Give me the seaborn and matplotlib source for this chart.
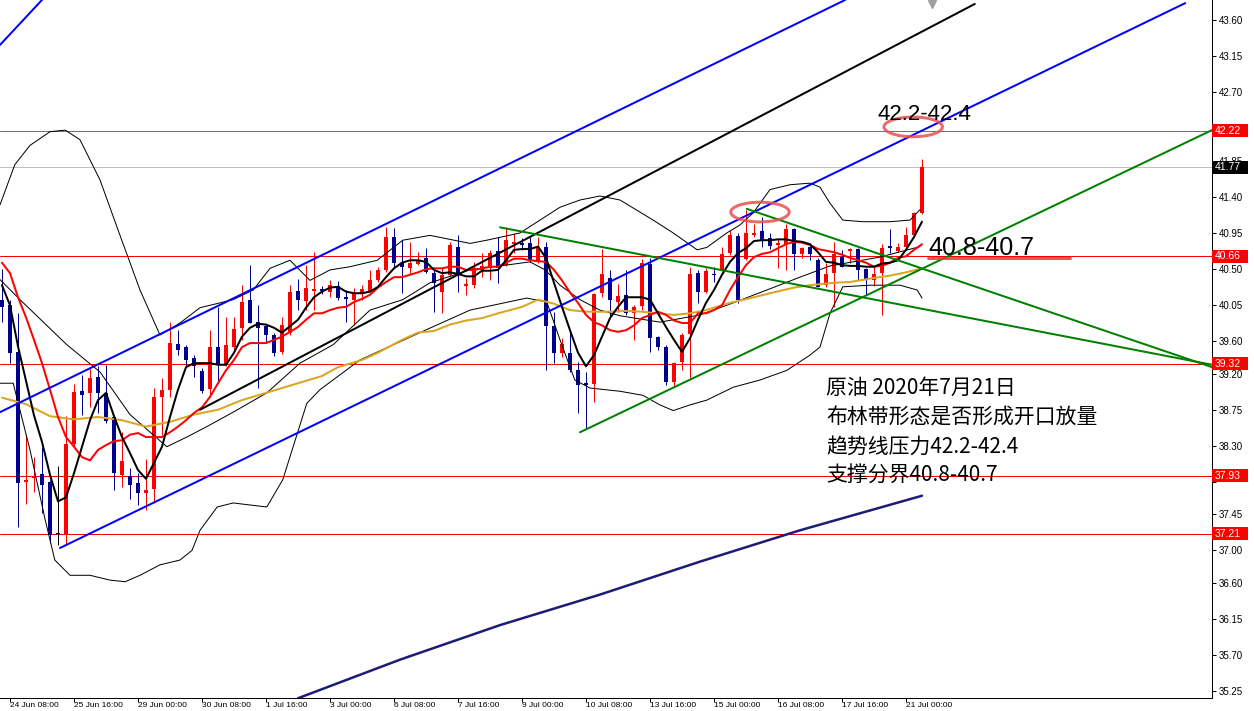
import numpy as np
import pandas as pd
import matplotlib
matplotlib.use("Agg")
import matplotlib.pyplot as plt
import matplotlib.transforms as mtransforms
from matplotlib import font_manager
from matplotlib.patches import Ellipse, Rectangle
import seaborn as sns

sns.set_theme(style="white")
plt.rcParams['font.family'] = ['Liberation Sans', 'DejaVu Sans']

#H4 candles, 24 Jun 04:00 .. 21 Jul 08:00
opens = [40.12, 40.05, 39.47, 37.85, 37.90, 37.95, 37.85, 37.20, 37.20, 38.32,
         38.98, 38.96, 39.16, 38.96, 38.66, 37.94, 37.92, 37.84, 37.71, 37.76,
         38.91, 39.00, 39.57, 39.53, 39.39, 39.23, 39.01, 39.53, 39.31, 39.53,
         39.77, 40.12, 39.84, 39.79, 39.68, 39.47, 39.70, 40.23, 40.10, 40.23,
         40.25, 40.22, 40.29, 40.15, 40.12, 40.19, 40.23, 40.36, 40.49, 40.90,
         40.58, 40.51, 40.56, 40.64, 40.45, 40.22, 40.43, 40.78, 40.29, 40.30,
         40.49, 40.51, 40.73, 40.55, 40.81, 40.83, 40.83, 40.59, 40.78, 39.79,
         39.46, 39.46, 39.24, 39.08, 39.07, 40.20, 40.39, 40.09, 40.18, 39.95,
         40.04, 40.56, 39.66, 39.53, 39.10, 39.34, 39.69, 40.45, 40.21, 40.44,
         40.49, 40.70, 40.91, 40.63, 40.92, 40.97, 40.89, 40.80, 40.81, 41.00,
         40.69, 40.78, 40.61, 40.30, 40.45, 40.65, 40.73, 40.75, 40.50, 40.36,
         40.45, 40.79, 40.73, 40.78, 40.92, 41.20]
highs = [40.50, 40.12, 39.95, 38.44, 38.16, 38.29, 37.88, 38.05, 38.67, 39.07,
         39.18, 39.27, 39.30, 39.31, 38.68, 38.47, 38.03, 37.96, 38.14, 39.02,
         39.15, 39.84, 39.74, 39.56, 39.43, 39.27, 39.74, 40.03, 39.90, 39.90,
         40.30, 40.55, 40.05, 39.81, 39.71, 39.90, 40.30, 40.38, 40.55, 40.71,
         40.29, 40.36, 40.35, 40.24, 40.27, 40.30, 40.49, 40.53, 41.02, 41.01,
         40.86, 40.84, 40.71, 40.76, 40.49, 40.51, 40.84, 40.92, 40.39, 40.59,
         40.70, 40.74, 40.90, 41.02, 40.95, 40.89, 40.90, 40.90, 40.84, 39.97,
         39.64, 39.72, 39.34, 39.22, 40.20, 40.75, 40.49, 40.32, 40.49, 40.05,
         40.63, 40.64, 39.67, 39.55, 39.34, 39.70, 40.53, 40.49, 40.51, 40.53,
         40.78, 40.99, 40.95, 41.24, 41.06, 41.15, 40.95, 40.89, 41.06, 41.01,
         40.77, 40.80, 40.64, 40.58, 40.84, 40.74, 40.76, 40.76, 40.51, 40.53,
         40.81, 41.00, 40.83, 41.02, 41.21, 41.87]
lows = [39.84, 39.33, 37.29, 37.58, 37.73, 37.46, 37.09, 37.07, 37.07, 38.29,
        38.68, 38.78, 38.71, 38.59, 37.75, 37.79, 37.64, 37.56, 37.50, 37.59,
        38.44, 38.91, 39.43, 39.28, 39.16, 38.96, 38.91, 39.08, 39.30, 39.49,
        39.62, 39.83, 39.02, 39.58, 39.42, 39.44, 39.68, 39.99, 39.99, 39.99,
        40.19, 40.15, 40.12, 39.84, 39.80, 40.12, 40.22, 40.34, 40.46, 40.53,
        40.20, 40.43, 40.55, 40.45, 39.97, 39.95, 40.41, 40.22, 40.18, 40.27,
        40.40, 40.36, 40.33, 40.54, 40.70, 40.74, 40.59, 40.58, 39.24, 39.33,
        39.41, 39.22, 38.71, 38.52, 38.85, 40.15, 39.90, 39.97, 39.93, 39.62,
        39.99, 39.47, 39.49, 39.06, 39.03, 39.24, 39.15, 40.08, 40.20, 40.34,
        40.48, 40.68, 40.08, 40.61, 40.90, 40.78, 40.75, 40.51, 40.49, 40.49,
        40.64, 40.61, 40.28, 40.28, 40.03, 40.53, 40.58, 40.36, 40.18, 40.29,
        39.93, 40.70, 40.71, 40.76, 40.90, 41.19]
closes = [40.03, 39.46, 37.84, 37.88, 37.93, 37.81, 37.19, 37.20, 38.32, 38.97,
          38.93, 39.14, 38.96, 38.61, 37.96, 38.11, 37.81, 37.71, 37.75, 38.91,
          39.00, 39.58, 39.49, 39.37, 39.29, 38.98, 39.53, 39.32, 39.56, 39.75,
          40.09, 39.83, 39.77, 39.68, 39.46, 39.81, 40.22, 40.12, 40.26, 40.25,
          40.23, 40.30, 40.14, 40.13, 40.20, 40.25, 40.36, 40.49, 40.90, 40.58,
          40.53, 40.58, 40.61, 40.46, 40.33, 40.43, 40.80, 40.45, 40.32, 40.51,
          40.54, 40.70, 40.51, 40.86, 40.84, 40.80, 40.61, 40.78, 39.79, 39.46,
          39.57, 39.24, 39.06, 39.06, 40.19, 40.44, 40.12, 40.17, 39.95, 40.03,
          40.58, 39.64, 39.53, 39.10, 39.33, 39.68, 40.44, 40.21, 40.48, 40.43,
          40.69, 40.92, 40.12, 40.95, 40.95, 40.85, 40.79, 40.82, 41.00, 40.69,
          40.76, 40.69, 40.28, 40.44, 40.69, 40.53, 40.75, 40.49, 40.36, 40.44,
          40.76, 40.76, 40.78, 40.92, 41.20, 41.77]

#Fast MA (black) and red MA, one value per candle
ma_black = [40.30, 40.05, 39.54, 39.11, 38.68, 38.35, 37.94, 37.61, 37.66, 37.96,
            38.29, 38.62, 38.87, 38.96, 38.67, 38.41, 38.21, 38.00, 37.89, 38.09,
            38.29, 38.66, 39.00, 39.28, 39.33, 39.33, 39.33, 39.31, 39.31, 39.46,
            39.66, 39.77, 39.82, 39.81, 39.77, 39.71, 39.79, 39.87, 40.02, 40.15,
            40.22, 40.27, 40.28, 40.22, 40.20, 40.20, 40.22, 40.28, 40.40, 40.51,
            40.58, 40.61, 40.61, 40.59, 40.49, 40.45, 40.46, 40.44, 40.41, 40.41,
            40.48, 40.48, 40.49, 40.61, 40.74, 40.75, 40.75, 40.78, 40.64, 40.33,
            40.03, 39.74, 39.46, 39.29, 39.43, 39.66, 39.89, 40.03, 40.15, 40.15,
            40.15, 40.12, 39.95, 39.78, 39.62, 39.47, 39.64, 39.87, 40.08, 40.24,
            40.43, 40.59, 40.70, 40.76, 40.85, 40.86, 40.86, 40.87, 40.87, 40.85,
            40.84, 40.81, 40.71, 40.59, 40.58, 40.55, 40.54, 40.54, 40.53, 40.53,
            40.57, 40.58, 40.61, 40.74, 40.90, 41.09]
ma_red = [40.58, 40.45, 40.15, 39.90, 39.62, 39.33, 39.00, 38.66, 38.41, 38.29,
          38.16, 38.12, 38.25, 38.31, 38.36, 38.37, 38.44, 38.46, 38.41, 38.41,
          38.41, 38.47, 38.54, 38.62, 38.71, 38.78, 38.91, 39.08, 39.24, 39.37,
          39.53, 39.58, 39.58, 39.58, 39.62, 39.66, 39.72, 39.78, 39.87, 39.95,
          39.95, 39.99, 40.02, 40.03, 40.09, 40.13, 40.18, 40.27, 40.34, 40.40,
          40.40, 40.43, 40.46, 40.50, 40.51, 40.51, 40.53, 40.53, 40.49, 40.49,
          40.51, 40.53, 40.53, 40.58, 40.63, 40.63, 40.61, 40.60, 40.59, 40.49,
          40.36, 40.21, 40.08, 39.93, 39.84, 39.80, 39.74, 39.72, 39.74, 39.80,
          39.89, 39.93, 39.97, 39.93, 39.86, 39.83, 39.83, 39.95, 39.95, 39.99,
          40.05, 40.24, 40.40, 40.55, 40.65, 40.69, 40.71, 40.76, 40.81, 40.84,
          40.83, 40.80, 40.75, 40.73, 40.71, 40.68, 40.64, 40.61, 40.58, 40.53,
          40.54, 40.58, 40.64, 40.66, 40.74, 40.81]

#Slow MA (gold), read at sample candles
gold_idx = [0, 3, 6, 9, 12, 15, 18, 21, 24, 27, 30, 33, 36, 40, 42, 45, 47, 50,
            52, 54, 56, 58, 60, 62, 65, 67, 69, 71, 73, 76, 78, 80, 82, 84, 86,
            88, 91, 94, 96, 99, 101, 104, 106, 109, 111, 113, 115]
gold_val = [38.90, 38.82, 38.67, 38.63, 38.66, 38.62, 38.54, 38.60, 38.69, 38.75,
            38.87, 38.96, 39.05, 39.17, 39.28, 39.37, 39.46, 39.62, 39.71, 39.73,
            39.81, 39.86, 39.89, 39.95, 40.03, 40.12, 40.07, 39.99, 39.97, 39.97,
            39.98, 39.97, 39.95, 39.93, 39.95, 39.99, 40.08, 40.15, 40.20, 40.27,
            40.30, 40.33, 40.34, 40.39, 40.42, 40.46, 40.51]

#Bollinger bands (thin black)
bb_up_idx = [-0.25, 1.6, 3.5, 6, 7.9, 9.75, 12.25, 14.75, 17.25, 19.75, 22.25, 24.75,
             28.9, 31.4, 33.5, 36, 38.5, 41, 43.5, 46.9, 50.1, 53.5, 58.5, 60.6,
             64.75, 67.25, 69.75, 72.25, 74.75, 77.25, 81.4, 83.9, 86.9, 88.1,
             90.6, 92.25, 93.9, 96, 98.5, 101, 102.25, 103.5, 105.1, 107.6, 111,
             113.5, 114.75]
bb_up = [41.30, 41.80, 42.04, 42.21, 42.23, 42.11, 41.61, 40.92, 40.24, 39.68, 39.83,
         40.02, 40.12, 40.24, 40.51, 40.61, 40.36, 40.49, 40.53, 40.61, 40.86, 40.92,
         40.82, 40.86, 40.95, 41.11, 41.27, 41.36, 41.41, 41.36, 41.11, 40.95, 40.74,
         40.77, 40.95, 41.05, 41.20, 41.49, 41.55, 41.57, 41.52, 41.32, 41.11, 41.09,
         41.09, 41.11, 41.24]
bb_mid_idx = [-0.25, 2.25, 8.1, 12.25, 16, 20.6, 23.1, 25.6, 28.9, 33.1, 37.25, 41.4,
              46, 50.1, 53.5, 58.5, 62.25, 66, 67.9, 69.75, 72.25, 74.75, 77.25,
              82.25, 87.25, 91.4, 95.6, 99.75, 103.5, 109.75, 114.75]
bb_mid = [40.37, 40.12, 39.56, 39.22, 38.69, 38.29, 38.41, 38.54, 38.72, 38.96, 39.33,
          39.56, 39.99, 40.12, 40.33, 40.49, 40.54, 40.59, 40.49, 40.30, 40.12, 39.99,
          39.92, 39.84, 39.93, 40.08, 40.24, 40.40, 40.54, 40.65, 40.78]
bb_low_idx = [-0.25, 1.4, 3.5, 5.4, 6.6, 8.5, 11, 13.5, 15.4, 17.25, 19.75, 22.25,
              23.75, 24.75, 26.9, 28.9, 33.1, 35.1, 38.1, 39.75, 44.75, 52.25, 58.5,
              65.6, 68.1, 69.75, 71.6, 73.5, 77.25, 80.1, 82.25, 83.9, 86, 88.1,
              91.4, 94.75, 98.1, 101, 102.25, 103.5, 105.1, 108.5, 112.25, 114.4, 115]
bb_low = [39.08, 39.08, 38.25, 37.38, 36.88, 36.69, 36.69, 36.63, 36.61, 36.69, 36.82,
          36.88, 37.00, 37.25, 37.54, 37.59, 37.54, 37.88, 38.83, 39.00, 39.37, 39.71,
          39.99, 40.14, 40.09, 39.62, 39.12, 39.02, 38.98, 38.93, 38.81, 38.74, 38.81,
          38.87, 39.03, 39.12, 39.24, 39.43, 39.53, 39.95, 40.28, 40.30, 40.30, 40.24,
          40.14]

#Long MA (navy)
navy_idx = [37, 49.75, 62.25, 74.75, 87.25, 99.75, 115]
navy_val = [35.16, 35.64, 36.07, 36.45, 36.86, 37.25, 37.68]

#Trend lines: (start index, start price, end index, end price)
blue_lines = [(-0.25, 43.29, 5.0, 43.85),
              (-0.25, 38.72, 105.4, 43.85),
              (7.25, 37.03, 147.9, 43.81)]
black_line = (24.75, 38.75, 121.6, 43.80)
green_lines = [(62.25, 41.02, 151.25, 39.31),
               (93.1, 41.25, 151.25, 39.28),
               (72.25, 38.47, 151.25, 42.23)]

#Horizontal levels
red_levels = [40.66, 39.32, 37.93, 37.21]
tag_values = [42.22, 41.77, 40.66, 39.32, 37.93, 37.21]
tag_colors = ['#FF0000', '#000000', '#FF0000', '#FF0000', '#FF0000', '#FF0000']

ytick_vals = [43.60, 43.15, 42.70, 42.25, 41.85, 41.40, 40.95, 40.50, 40.05, 39.60,
              39.20, 38.75, 38.30, 37.85, 37.45, 37.00, 36.60, 36.15, 35.70, 35.25]
hidden_ticks = [42.25, 37.85]
xtick_pos = [1, 9, 17, 25, 33, 41, 49, 57, 65, 73, 81, 89, 97, 105, 113]
xtick_labels = ['24 Jun 08:00', '25 Jun 16:00', '29 Jun 00:00', '30 Jun 08:00',
                '1 Jul 16:00', '3 Jul 00:00', '6 Jul 08:00', '7 Jul 16:00',
                '9 Jul 00:00', '10 Jul 08:00', '13 Jul 16:00', '15 Jul 00:00',
                '16 Jul 08:00', '17 Jul 16:00', '21 Jul 00:00']

notes = ['原油 2020年7月21日', '布林带形态是否形成开口放量',
         '趋势线压力42.2-42.4', '支撑分界40.8-40.7']

PX = 0.72  # one screen pixel in points
BULL = '#FF0000'
BEAR = '#000090'

#Narrow font for the date axis if available
installed = {f.name for f in font_manager.fontManager.ttflist}
if 'Liberation Sans Narrow' in installed:
    date_font, date_size = 'Liberation Sans Narrow', 6.8
else:
    date_font, date_size = 'Liberation Sans', 6.0

fig = plt.figure(figsize=(12.54, 7.11), dpi=100)
ax = fig.add_axes([0, 13 / 711, 1212 / 1254, 698 / 711])
ax.set_facecolor('white')

#Candles
df = pd.DataFrame({'o': opens, 'h': highs, 'l': lows, 'c': closes})
df['i'] = np.arange(len(df))
df['col'] = np.where(df.c > df.o, BULL, np.where(df.c < df.o, BEAR, '#000000'))
ax.vlines(df.i, df.l, df.h, colors=df.col, lw=1 * PX, zorder=2)
body = np.maximum((df.c - df.o).abs(), 0.013)
ax.bar(df.i, body, bottom=np.minimum(df.o, df.c), width=0.62, color=df.col,
       linewidth=0, zorder=2)

#Indicators
sns.lineplot(x=bb_up_idx, y=bb_up, ax=ax, color='black', lw=1 * PX, sort=False, zorder=3)
sns.lineplot(x=bb_mid_idx, y=bb_mid, ax=ax, color='black', lw=1 * PX, sort=False, zorder=3)
sns.lineplot(x=bb_low_idx, y=bb_low, ax=ax, color='black', lw=1 * PX, sort=False, zorder=3)
sns.lineplot(x=gold_idx, y=gold_val, ax=ax, color='#DAA520', lw=2 * PX, sort=False, zorder=3)
sns.lineplot(x=df.i, y=ma_red, ax=ax, color='#FF0000', lw=2 * PX, sort=False, zorder=3)
sns.lineplot(x=df.i, y=ma_black, ax=ax, color='black', lw=2 * PX, sort=False, zorder=3)
sns.lineplot(x=navy_idx, y=navy_val, ax=ax, color='#1C1C78', lw=2.5 * PX, sort=False, zorder=3)

#Horizontal lines
ax.axhline(42.22, color='#707070', lw=1 * PX, zorder=1)
ax.axhline(41.77, color='#C0C0C0', lw=1 * PX, zorder=1)
for v in red_levels:
    ax.axhline(v, color='#FF0000', lw=1 * PX, zorder=1)

#Trend lines
for x0, y0, x1, y1 in blue_lines:
    ax.plot([x0, x1], [y0, y1], color='#0000FF', lw=2 * PX, zorder=4)
ax.plot(black_line[::2], black_line[1::2], color='black', lw=2 * PX, zorder=4)
for x0, y0, x1, y1 in green_lines:
    ax.plot([x0, x1], [y0, y1], color='#008000', lw=2 * PX, zorder=4)

#Highlights
for cx, cy in [(113.9, 42.27), (94.75, 41.21)]:
    ax.add_patch(Ellipse((cx, cy), 7.3, 0.245, fill=False, ec='#E85050',
                         lw=3 * PX, alpha=0.85, zorder=5))
ax.plot([115.75, 133.5], [40.64, 40.64], color='#FF3030', lw=3 * PX, alpha=0.85, zorder=5)
ax.plot([116.25], [43.80], marker='v', color='#A0A0A0', ms=6, zorder=5)

ax.text(109.5, 42.42, '42.2-42.4', fontsize=16, va='center', ha='left', color='black', zorder=6)
ax.text(115.75, 40.76, '40.8-40.7', fontsize=18, va='center', ha='left', color='black', zorder=6)
for k, line in enumerate(notes):
    ax.text(103, 39.02 - k * 0.364, line, fontsize=15, va='center', ha='left',
            family=['Noto Sans CJK SC', 'DejaVu Sans'], color='black', zorder=6)

#Axes
ax.set_xlim(-0.25, 151.25)
ax.set_ylim(35.163, 43.849)
ax.yaxis.tick_right()
ax.set_yticks(ytick_vals)
ax.set_yticklabels(['' if v in hidden_ticks else f'{v:.2f}' for v in ytick_vals])
ax.set_xticks(xtick_pos)
ax.set_xticklabels(xtick_labels, ha='left')
for t in ax.get_xticklabels():
    t.set_family(date_font)
ax.tick_params(axis='y', which='both', right=True, left=False, direction='out',
               length=3, width=1 * PX, labelsize=7, pad=2, colors='black')
ax.tick_params(axis='x', which='both', bottom=True, direction='out', length=3,
               width=1 * PX, labelsize=date_size, pad=0, colors='black')
ax.spines['top'].set_visible(False)
ax.spines['left'].set_visible(False)
for s in ['right', 'bottom']:
    ax.spines[s].set_color('black')
    ax.spines[s].set_linewidth(1 * PX)

#Price tags on the right axis
trans = mtransforms.blended_transform_factory(ax.transAxes, ax.transData)
half = 6.5 / 80.36
for v, c in zip(tag_values, tag_colors):
    ax.add_patch(Rectangle((1.0, v - half), 36 / 1212, 2 * half, transform=trans,
                           fc=c, ec='none', clip_on=False, zorder=8))
    ax.text(1215 / 1212, v, f'{v:.2f}', transform=trans, color='white', fontsize=7.5,
            va='center', ha='left', clip_on=False, zorder=9)

fig.savefig('out.png', dpi=100)
